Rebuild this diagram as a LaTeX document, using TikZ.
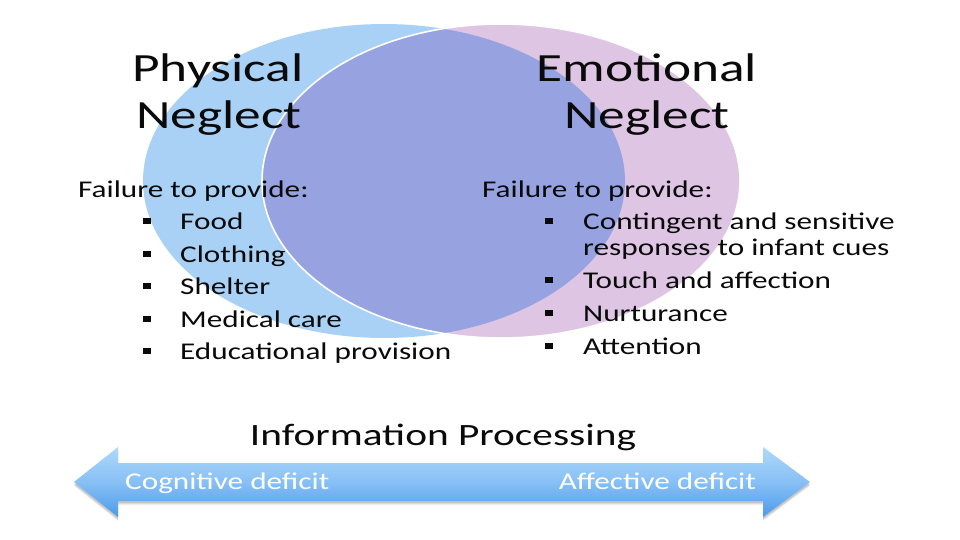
\documentclass[tikz,border=0pt]{standalone}
\usepackage{fontspec}
\setmainfont{Carlito}
\newcommand{\sx}[1]{\scalebox{1.3333}[1]{#1}}
\newcommand{\sxl}[1]{\scalebox{1.30}[1]{#1}}
\definecolor{leftblue}{RGB}{169,209,245}
\definecolor{rightpink}{RGB}{222,197,227}
\definecolor{overlapc}{RGB}{151,163,224}
\definecolor{arrtop}{RGB}{175,216,251}
\definecolor{arrbot}{RGB}{76,155,235}
\definecolor{txtc}{RGB}{10,10,10}
\tikzset{
  title/.style={font=\fontsize{40}{48}\selectfont, text=txtc, inner sep=0pt, anchor=base},
  item/.style={font=\fontsize{24}{29}\selectfont, text=txtc, inner sep=0pt, anchor=base west},
  bul/.style={fill=txtc, minimum width=8pt, minimum height=6.5pt, inner sep=0pt},
  arrlab/.style={font=\fontsize{24}{29}\selectfont, text=white, inner sep=0pt, anchor=base},
}
\begin{document}
\begin{tikzpicture}[x=1pt,y=-1pt]
\useasboundingbox (0,0) rectangle (960,540);
\fill[white] (0,0) rectangle (960,540);
% Venn ellipses
\fill[leftblue] (384,181) ellipse [x radius=241, y radius=157];
\fill[rightpink] (501,181) ellipse [x radius=239, y radius=157];
\begin{scope}
  \clip (384,181) ellipse [x radius=241, y radius=157];
  \fill[overlapc] (501,181) ellipse [x radius=239, y radius=157];
\end{scope}
\draw[white, line width=1.6pt] (501,181) ellipse [x radius=239, y radius=157];
% Titles
\node[title] (pt1) at (218,82) {\sx{Physical}};
\node[title] (pt2) at (219,129) {\sx{Neglect}};
\node[title] (et1) at (647,82) {\sx{Emotional}};
\node[title] (et2) at (647,129) {\sx{Neglect}};
% Left list
\node[item] (lf) at (78,197) {\sxl{Failure to provide:}};
\foreach \y/\t [count=\i] in {229/Food,262/Clothing,294/Shelter,327/Medical care,359/Educational provision}{
  \node[bul] (lb\i) at (147,\y-8) {};
  \node[item] (li\i) at (180,\y) {\sxl{\t}};
}
% Right list
\node[item] (rf) at (482,197) {\sxl{Failure to provide:}};
\node[bul] (rb1) at (549,221) {};
\node[item] (ri1) at (583,229) {\sxl{Contingent and sensitive}};
\node[item] (ri1b) at (583,255) {\sxl{responses to infant cues}};
\node[bul] (rb2) at (549,280) {};
\node[item] (ri2) at (583,288) {\sxl{Touch and affection}};
\node[bul] (rb3) at (549,313) {};
\node[item] (ri3) at (583,321) {\sxl{Nurturance}};
\node[bul] (rb4) at (549,346) {};
\node[item] (ri4) at (583,354) {\sxl{Attention}};
% Information processing
\node[font=\fontsize{31}{37}\selectfont, text=txtc, inner sep=0pt, anchor=base] (ip) at (443,445) {\sx{Information Processing}};
% Double arrow
\foreach \o/\op in {4/0.06,3/0.08,2/0.1}{
  \fill[black, opacity=\op] (74,482+\o) -- (118,447+\o) -- (118,463+\o) -- (763,463+\o) -- (763,447+\o) -- (810,482+\o) -- (763,517+\o) -- (763,501+\o) -- (118,501+\o) -- (118,517+\o) -- cycle;
}
\shade[top color=arrtop, bottom color=arrbot, middle color=arrtop!60!arrbot]
  (74,482) -- (118,447) -- (118,463) -- (763,463) -- (763,447) -- (810,482) -- (763,517) -- (763,501) -- (118,501) -- (118,517) -- cycle;
\node[arrlab, anchor=base west] (cd) at (125,489) {\sxl{Cognitive deficit}};
\node[arrlab, anchor=base east] (ad) at (756,489) {\sxl{Affective deficit}};
\end{tikzpicture}
\end{document}
